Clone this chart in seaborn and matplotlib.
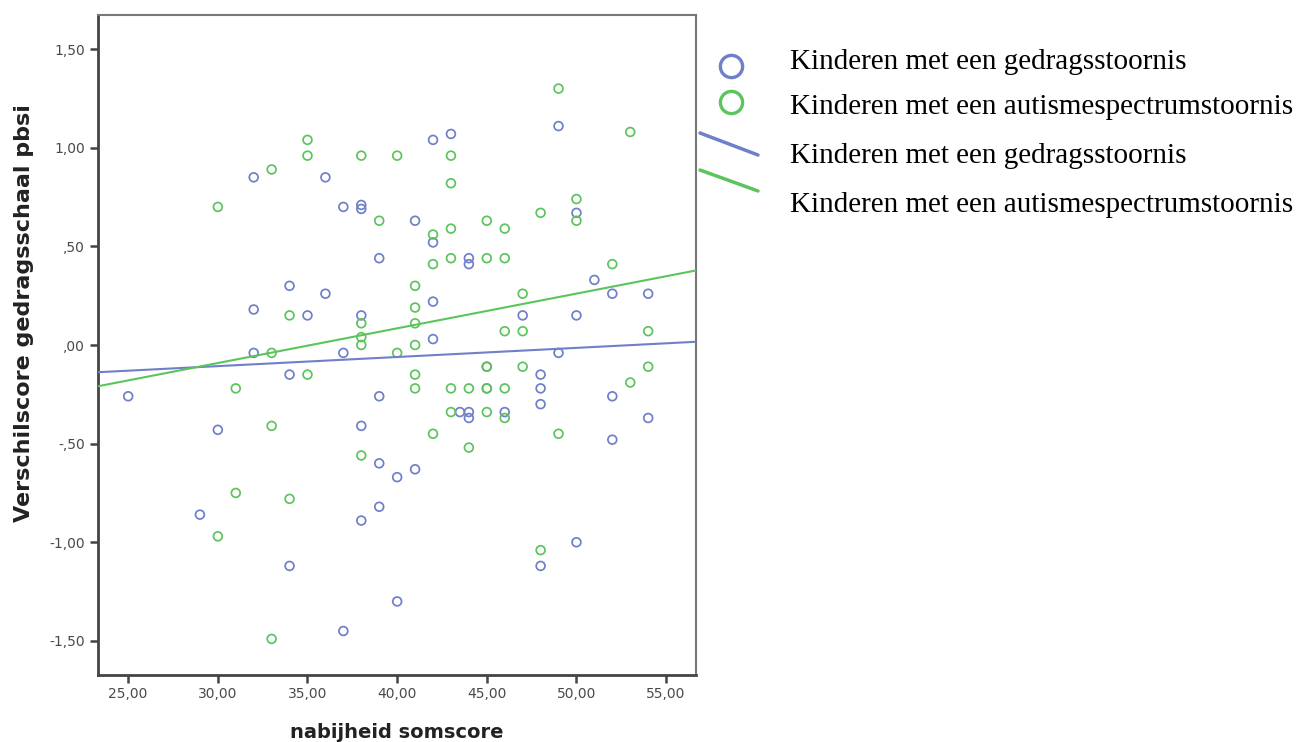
import matplotlib
matplotlib.use("Agg")
import matplotlib.pyplot as plt
from matplotlib.lines import Line2D
import seaborn as sns

# ---- data ----
# Kinderen met een gedragsstoornis (blue)
gs_x = [25, 29, 30, 32, 32, 32, 34, 34, 34, 35, 36, 36, 37, 37, 37,
        38, 38, 38, 38, 38, 39, 39, 39, 39, 40, 40, 41, 41,
        42, 42, 42, 42, 43, 43.5, 44, 44, 44, 44, 45, 45, 46, 47,
        48, 48, 48, 48, 49, 49, 50, 50, 50, 51, 52, 52, 52, 54, 54]
gs_y = [-0.26, -0.86, -0.43, 0.85, 0.18, -0.04, 0.30, -0.15, -1.12, 0.15, 0.85, 0.26, 0.70, -0.04, -1.45,
        0.71, 0.69, 0.15, -0.41, -0.89, 0.44, -0.26, -0.60, -0.82, -0.67, -1.30, 0.63, -0.63,
        1.04, 0.52, 0.22, 0.03, 1.07, -0.34, 0.44, 0.41, -0.34, -0.37, -0.11, -0.22, -0.34, 0.15,
        -0.15, -0.22, -0.30, -1.12, 1.11, -0.04, 0.67, 0.15, -1.00, 0.33, 0.26, -0.26, -0.48, 0.26, -0.37]

# Kinderen met een autismespectrumstoornis (green)
as_x = [30, 30, 31, 31, 33, 33, 33, 33, 34, 34, 35, 35, 35,
        38, 38, 38, 38, 38, 39, 40, 40, 41, 41, 41, 41, 41, 41,
        42, 42, 42, 43, 43, 43, 43, 43, 43, 44, 44, 45, 45, 45, 45, 45,
        46, 46, 46, 46, 46, 47, 47, 47, 48, 48, 49, 49, 50, 50, 52, 53, 53, 54, 54]
as_y = [0.70, -0.97, -0.22, -0.75, 0.89, -0.04, -0.41, -1.49, 0.15, -0.78, 1.04, 0.96, -0.15,
        0.96, 0.11, 0.04, 0.00, -0.56, 0.63, 0.96, -0.04, 0.30, 0.19, 0.11, 0.00, -0.15, -0.22,
        0.56, 0.41, -0.45, 0.96, 0.82, 0.59, 0.44, -0.22, -0.34, -0.22, -0.52, 0.63, 0.44, -0.11, -0.22, -0.34,
        0.59, 0.44, 0.07, -0.22, -0.37, 0.26, 0.07, -0.11, 0.67, -1.04, 1.30, -0.45, 0.74, 0.63, 0.41, 1.08, -0.19, 0.07, -0.11]

x_ticks = [25, 30, 35, 40, 45, 50, 55]
x_tick_labels = ["25,00", "30,00", "35,00", "40,00", "45,00", "50,00", "55,00"]
y_ticks = [-1.5, -1.0, -0.5, 0.0, 0.5, 1.0, 1.5]
y_tick_labels = ["-1,50", "-1,00", "-,50", ",00", ",50", "1,00", "1,50"]
legend_labels = ["Kinderen met een gedragsstoornis",
                 "Kinderen met een autismespectrumstoornis",
                 "Kinderen met een gedragsstoornis",
                 "Kinderen met een autismespectrumstoornis"]
x_label = "nabijheid somscore"
y_label = "Verschilscore gedragsschaal pbsi"

BLUE = "#6f7fc9"
GREEN = "#5cc45c"

sns.set_style("white")
plt.rcParams['font.family'] = ['DejaVu Sans']

W, H = 1297, 742
fig = plt.figure(figsize=(W / 100, H / 100), dpi=100)
ax = fig.add_axes([97.7 / W, 1 - 675 / H, (695.7 - 97.7) / W, (675 - 15) / H])

XLIM = (23.3, 56.65)
YLIM = (-1.673, 1.673)
ax.set_xlim(*XLIM)
ax.set_ylim(*YLIM)

sns.scatterplot(x=gs_x, y=gs_y, ax=ax, marker="o", s=40, color=BLUE,
                facecolor="none", edgecolor=BLUE, linewidth=1.25, zorder=3)
sns.scatterplot(x=as_x, y=as_y, ax=ax, marker="o", s=40, color=GREEN,
                facecolor="none", edgecolor=GREEN, linewidth=1.25, zorder=3)

sns.regplot(x=gs_x, y=gs_y, ax=ax, scatter=False, ci=None, truncate=False,
            color=BLUE, line_kws=dict(linewidth=1.5, zorder=4))
sns.regplot(x=as_x, y=as_y, ax=ax, scatter=False, ci=None, truncate=False,
            color=GREEN, line_kws=dict(linewidth=1.5, zorder=4))

ax.set_xlim(*XLIM)
ax.set_ylim(*YLIM)

ax.set_xticks(x_ticks)
ax.set_xticklabels(x_tick_labels)
ax.set_yticks(y_ticks)
ax.set_yticklabels(y_tick_labels)
ax.tick_params(axis="both", direction="out", length=6, width=1.8, color="#444444",
               labelsize=10, labelcolor="#4a4a4a", pad=3, bottom=True, left=True)
ax.set_xlabel("")
ax.set_ylabel("")

for side in ["left", "bottom"]:
    ax.spines[side].set_color("#444444")
    ax.spines[side].set_linewidth(2.0)
for side in ["top", "right"]:
    ax.spines[side].set_color("#777777")
    ax.spines[side].set_linewidth(1.5)

fig.text(397 / W, 1 - 732 / H, x_label, ha="center", va="center",
         fontsize=14, fontweight="bold", color="#222222")
fig.text(24 / W, 1 - 313 / H, y_label, ha="center", va="center", rotation=90,
         fontsize=16, fontweight="bold", color="#222222")

# legend (outside the axes, on the figure)
fig.add_artist(Line2D([731 / W], [1 - 66 / H], marker="o", markersize=16, mew=2.4,
                      mfc="none", mec=BLUE, linestyle="none", transform=fig.transFigure))
fig.add_artist(Line2D([731 / W], [1 - 102 / H], marker="o", markersize=16, mew=2.4,
                      mfc="none", mec=GREEN, linestyle="none", transform=fig.transFigure))
fig.add_artist(Line2D([700 / W, 758 / W], [1 - 133 / H, 1 - 155 / H], color=BLUE,
                      linewidth=2.5, transform=fig.transFigure))
fig.add_artist(Line2D([700 / W, 758 / W], [1 - 170 / H, 1 - 191 / H], color=GREEN,
                      linewidth=2.5, transform=fig.transFigure))
for lab, yy in zip(legend_labels, [62, 107, 156, 205]):
    fig.text(790 / W, 1 - yy / H, lab, ha="left", va="center",
             family=["Liberation Serif", "DejaVu Serif"], fontsize=21, color="#000000")

fig.savefig("out.png", dpi=100)
